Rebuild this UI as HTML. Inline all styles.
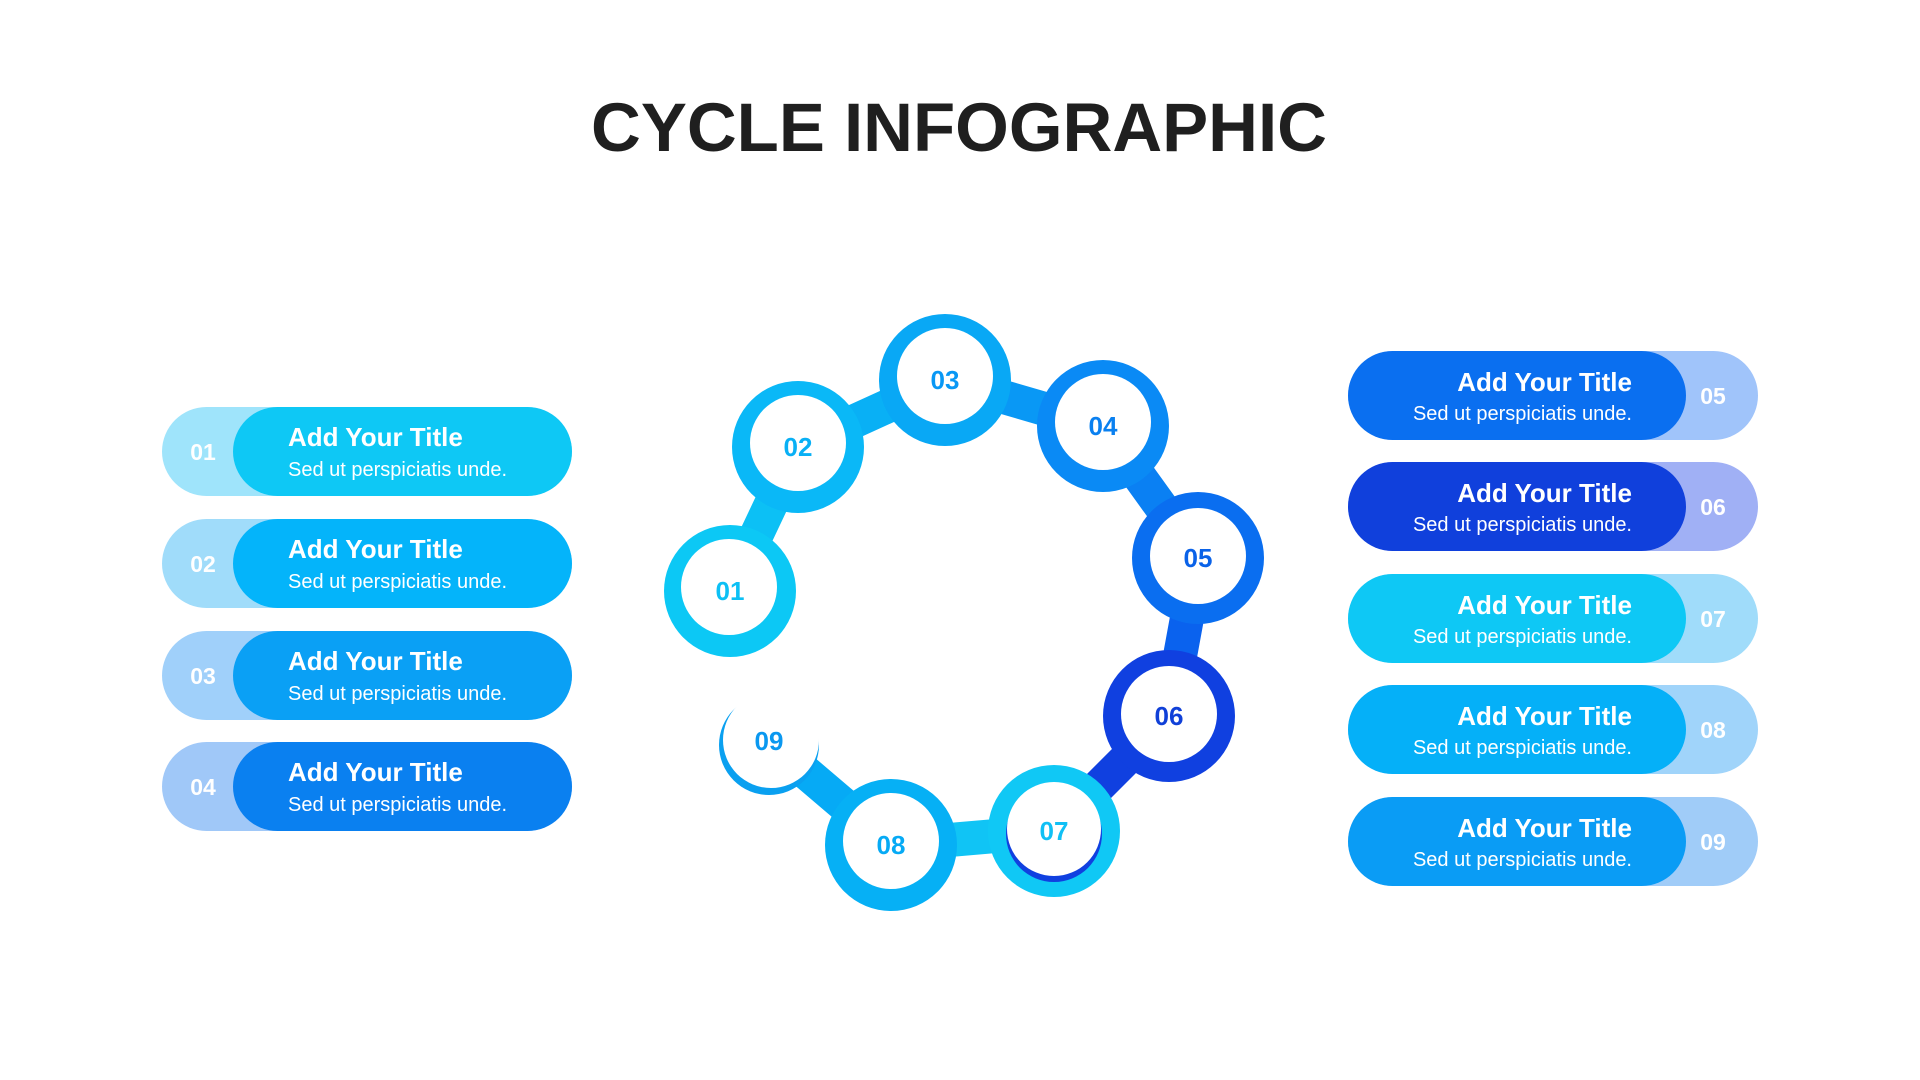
<!DOCTYPE html>
<html><head><meta charset="utf-8"><style>
html,body{margin:0;padding:0;background:#fff;}
svg{display:block}
text{font-family:"Liberation Sans",sans-serif;}
</style></head><body>
<svg width="1920" height="1080" viewBox="0 0 1920 1080">
<text x="959" y="151" text-anchor="middle" font-size="69" font-weight="bold" fill="#1f1f1f">CYCLE INFOGRAPHIC</text>

<!-- left pills -->
<g font-weight="bold">
<rect x="162" y="407" width="410" height="89" rx="44.5" fill="#9fe4fb"/>
<rect x="233" y="407" width="339" height="89" rx="44.5" fill="#0ec8f5"/>
<text x="203" y="460" text-anchor="middle" font-size="23" fill="#fff">01</text>
<text x="288" y="446" font-size="26" fill="#fff">Add Your Title</text>
<text x="288" y="476" font-size="20" font-weight="normal" fill="#fff">Sed ut perspiciatis unde.</text>

<rect x="162" y="519" width="410" height="89" rx="44.5" fill="#a0dcfa"/>
<rect x="233" y="519" width="339" height="89" rx="44.5" fill="#04b4fa"/>
<text x="203" y="572" text-anchor="middle" font-size="23" fill="#fff">02</text>
<text x="288" y="558" font-size="26" fill="#fff">Add Your Title</text>
<text x="288" y="588" font-size="20" font-weight="normal" fill="#fff">Sed ut perspiciatis unde.</text>

<rect x="162" y="631" width="410" height="89" rx="44.5" fill="#a0d0fa"/>
<rect x="233" y="631" width="339" height="89" rx="44.5" fill="#0aa0f5"/>
<text x="203" y="684" text-anchor="middle" font-size="23" fill="#fff">03</text>
<text x="288" y="670" font-size="26" fill="#fff">Add Your Title</text>
<text x="288" y="700" font-size="20" font-weight="normal" fill="#fff">Sed ut perspiciatis unde.</text>

<rect x="162" y="742" width="410" height="89" rx="44.5" fill="#a0c8f8"/>
<rect x="233" y="742" width="339" height="89" rx="44.5" fill="#0a80f0"/>
<text x="203" y="795" text-anchor="middle" font-size="23" fill="#fff">04</text>
<text x="288" y="781" font-size="26" fill="#fff">Add Your Title</text>
<text x="288" y="811" font-size="20" font-weight="normal" fill="#fff">Sed ut perspiciatis unde.</text>
</g>

<!-- right pills -->
<g font-weight="bold">
<rect x="1348" y="351" width="410" height="89" rx="44.5" fill="#a0c4fa"/>
<rect x="1348" y="351" width="338" height="89" rx="44.5" fill="#0a6ff0"/>
<text x="1713" y="404" text-anchor="middle" font-size="23" fill="#fff">05</text>
<text x="1632" y="391" text-anchor="end" font-size="26" fill="#fff">Add Your Title</text>
<text x="1632" y="420" text-anchor="end" font-size="20" font-weight="normal" fill="#fff">Sed ut perspiciatis unde.</text>

<rect x="1348" y="462" width="410" height="89" rx="44.5" fill="#a0b0f5"/>
<rect x="1348" y="462" width="338" height="89" rx="44.5" fill="#1040dc"/>
<text x="1713" y="515" text-anchor="middle" font-size="23" fill="#fff">06</text>
<text x="1632" y="502" text-anchor="end" font-size="26" fill="#fff">Add Your Title</text>
<text x="1632" y="531" text-anchor="end" font-size="20" font-weight="normal" fill="#fff">Sed ut perspiciatis unde.</text>

<rect x="1348" y="574" width="410" height="89" rx="44.5" fill="#a0dcfa"/>
<rect x="1348" y="574" width="338" height="89" rx="44.5" fill="#0ec8f5"/>
<text x="1713" y="627" text-anchor="middle" font-size="23" fill="#fff">07</text>
<text x="1632" y="614" text-anchor="end" font-size="26" fill="#fff">Add Your Title</text>
<text x="1632" y="643" text-anchor="end" font-size="20" font-weight="normal" fill="#fff">Sed ut perspiciatis unde.</text>

<rect x="1348" y="685" width="410" height="89" rx="44.5" fill="#a0d4fa"/>
<rect x="1348" y="685" width="338" height="89" rx="44.5" fill="#05b0f8"/>
<text x="1713" y="738" text-anchor="middle" font-size="23" fill="#fff">08</text>
<text x="1632" y="725" text-anchor="end" font-size="26" fill="#fff">Add Your Title</text>
<text x="1632" y="754" text-anchor="end" font-size="20" font-weight="normal" fill="#fff">Sed ut perspiciatis unde.</text>

<rect x="1348" y="797" width="410" height="89" rx="44.5" fill="#a0ccf8"/>
<rect x="1348" y="797" width="338" height="89" rx="44.5" fill="#0a9cf5"/>
<text x="1713" y="850" text-anchor="middle" font-size="23" fill="#fff">09</text>
<text x="1632" y="837" text-anchor="end" font-size="26" fill="#fff">Add Your Title</text>
<text x="1632" y="866" text-anchor="end" font-size="20" font-weight="normal" fill="#fff">Sed ut perspiciatis unde.</text>
</g>

<!-- cycle connectors -->
<g stroke-width="34" stroke-linecap="round">
<line x1="730" y1="591" x2="798" y2="447" stroke="#0cc0f5"/>
<line x1="798" y1="447" x2="945" y2="380" stroke="#09b0f5"/>
<line x1="945" y1="380" x2="1103" y2="426" stroke="#0998f5"/>
<line x1="1103" y1="426" x2="1198" y2="558" stroke="#0a80f3"/>
<line x1="1198" y1="558" x2="1169" y2="716" stroke="#0a62ee"/>
<line x1="1169" y1="716" x2="1054" y2="831" stroke="#1040e0"/>
<line x1="1054" y1="831" x2="891" y2="845" stroke="#10c4f5"/>
<line x1="891" y1="845" x2="769" y2="741" stroke="#06aaf5"/>
</g>
<!-- circles -->
<g>
<circle cx="730" cy="591" r="66" fill="#0cc8f5"/><circle cx="729" cy="587" r="48" fill="#fff"/>
<circle cx="798" cy="447" r="66" fill="#0ab8f7"/><circle cx="798" cy="443" r="48" fill="#fff"/>
<circle cx="945" cy="380" r="66" fill="#09a8f5"/><circle cx="945" cy="376" r="48" fill="#fff"/>
<circle cx="1103" cy="426" r="66" fill="#0a8af5"/><circle cx="1103" cy="422" r="48" fill="#fff"/>
<circle cx="1198" cy="558" r="66" fill="#0a6ef0"/><circle cx="1198" cy="556" r="48" fill="#fff"/>
<circle cx="1169" cy="716" r="66" fill="#1040e0"/><circle cx="1169" cy="714" r="48" fill="#fff"/>
<circle cx="1054" cy="831" r="66" fill="#10c8f5"/><circle cx="1054" cy="834" r="48" fill="#1040e0"/><circle cx="1054" cy="829" r="47" fill="#fff"/>
<circle cx="891" cy="845" r="66" fill="#06b0f5"/><circle cx="891" cy="841" r="48" fill="#fff"/>
<circle cx="769" cy="745" r="50" fill="#0aa0f0"/><circle cx="771" cy="740" r="48" fill="#fff"/>
</g>
<g font-weight="bold" font-size="26" text-anchor="middle">
<text x="730" y="600" fill="#0cc0f5">01</text>
<text x="798" y="456" fill="#09b0f5">02</text>
<text x="945" y="389" fill="#0998f5">03</text>
<text x="1103" y="435" fill="#0a80f0">04</text>
<text x="1198" y="567" fill="#0a62e8">05</text>
<text x="1169" y="725" fill="#1040d8">06</text>
<text x="1054" y="840" fill="#10c0f5">07</text>
<text x="891" y="854" fill="#06aaf5">08</text>
<text x="769" y="750" fill="#0a98f0">09</text>
</g>
</svg>
</body></html>
